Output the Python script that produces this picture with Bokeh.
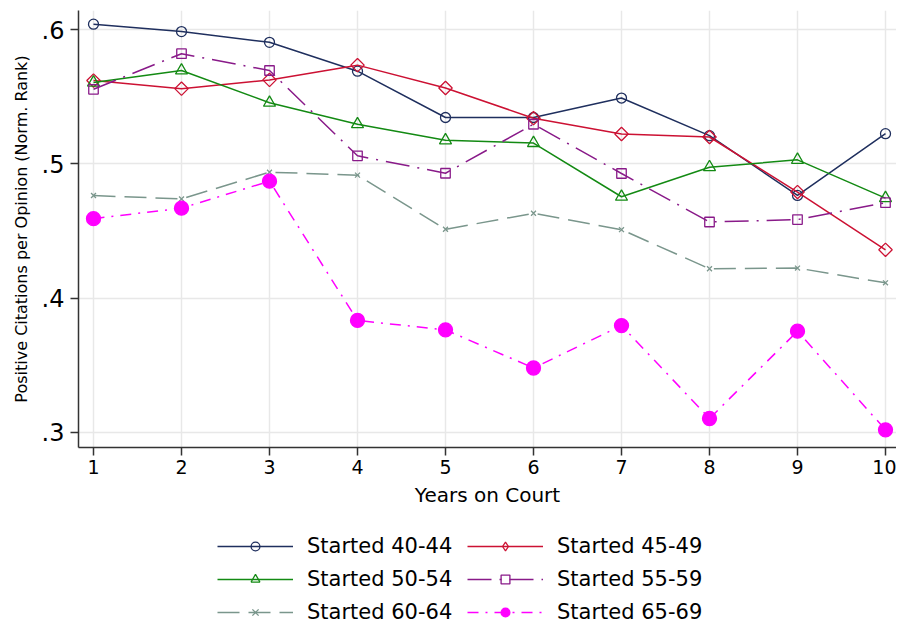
import math
from bokeh.plotting import figure
from bokeh.models import Legend, LegendItem, FixedTicker, Range1d, CustomJSTickFormatter
from bokeh.layouts import column
from bokeh.embed import file_html
from bokeh.resources import INLINE

years = [1, 2, 3, 4, 5, 6, 7, 8, 9, 10]
s40_44 = [0.604, 0.5985, 0.5905, 0.569, 0.5345, 0.5345, 0.549, 0.521, 0.4765, 0.5225]
s45_49 = [0.562, 0.556, 0.5625, 0.5735, 0.5565, 0.534, 0.5222, 0.520, 0.479, 0.436]
s50_54 = [0.5605, 0.5695, 0.5455, 0.5295, 0.5175, 0.5155, 0.4755, 0.4975, 0.503, 0.4745]
s55_59 = [0.5555, 0.582, 0.5695, 0.506, 0.493, 0.5295, 0.4928, 0.4567, 0.4585, 0.4711]
s60_64 = [0.4764, 0.4739, 0.4938, 0.4916, 0.4513, 0.4632, 0.451, 0.4219, 0.4224, 0.4114]
s65_69 = [0.4592, 0.467, 0.4871, 0.3834, 0.3764, 0.348, 0.3796, 0.3104, 0.3754, 0.302]

labels = ["Started 40-44", "Started 45-49", "Started 50-54",
          "Started 55-59", "Started 60-64", "Started 65-69"]
y_ticks = [0.3, 0.4, 0.5, 0.6]

FONT = "DejaVu Sans"

p = figure(frame_width=818, frame_height=437, output_backend="svg",
           toolbar_location=None, min_border_left=78, min_border_top=10,
           min_border_right=0, min_border_bottom=73,
           x_range=Range1d(0.8295, 10.125), y_range=Range1d(0.28881, 0.61418))
p.outline_line_color = None
p.background_fill_color = "white"

styles = [
    dict(color="#1f2f5e", dash="solid", marker="circle", lmarker="circle", size=10, angle=0, fill=None),
    dict(color="#cc1133", dash="solid", marker="square", lmarker="diamond", size=9.5, angle=math.pi / 4, fill=None),
    dict(color="#138a13", dash="solid", marker="triangle", lmarker="triangle", size=12, angle=0, fill=None),
    dict(color="#891a89", dash="24 8 2 8", marker="square", lmarker="square", size=9.5, angle=0, fill=None),
    dict(color="#7a968c", dash="22 9", marker="x", lmarker="x", size=7, angle=0, fill=None),
    dict(color="#ff00ff", dash="11 7 2 7", marker="circle", lmarker="circle", size=14, angle=0, fill="#ff00ff"),
]
series = [s40_44, s45_49, s50_54, s55_59, s60_64, s65_69]

# legend-only figure below the plot (its ranges keep the data out of view)
lg = figure(width=896, height=105, output_backend="svg", toolbar_location=None,
            x_range=Range1d(-20, -19), y_range=Range1d(-20, -19),
            x_axis_location=None, y_axis_location=None,
            min_border=0)
lg.outline_line_color = None
lg.grid.visible = False

items = {}
for lab, vals, st in zip(labels, series, styles):
    line_kw = dict(line_color=st["color"], line_width=1.5, line_dash=st["dash"])
    mk_kw = dict(size=st["size"], line_color=st["color"], line_width=1.3,
                 fill_color=st["fill"] if st["fill"] else "white",
                 fill_alpha=1.0 if st["fill"] else 0.0)
    p.line(years, vals, **line_kw)
    p.scatter(years, vals, marker=st["marker"], angle=st["angle"], **mk_kw)
    l1 = lg.line(years, vals, **line_kw)
    l2 = lg.scatter(years, vals, marker=st["lmarker"], **mk_kw)
    items[lab] = LegendItem(label=lab, renderers=[l1, l2])

order = ["Started 40-44", "Started 50-54", "Started 60-64",
         "Started 45-49", "Started 55-59", "Started 65-69"]
legend = Legend(items=[items[k] for k in order], nrows=3, orientation="vertical",
                location=(139, 1), glyph_width=76, glyph_height=22,
                label_height=25, label_width=152, spacing=8, label_standoff=14,
                label_text_font=FONT, label_text_font_size="21px",
                label_text_color="black",
                border_line_color=None, background_fill_alpha=0,
                padding=0, margin=0)
lg.add_layout(legend, "center")

# axes
p.xaxis.ticker = FixedTicker(ticks=years)
p.yaxis.ticker = FixedTicker(ticks=y_ticks)
p.yaxis.formatter = CustomJSTickFormatter(code="return tick.toFixed(1).replace(/^0/, '');")
p.xaxis.axis_label = "Years on Court"
p.yaxis.axis_label = "Positive Citations per Opinion (Norm. Rank)"
for ax in (p.xaxis, p.yaxis):
    ax.axis_line_color = "#333333"
    ax.axis_line_width = 1.5
    ax.major_tick_line_color = "#333333"
    ax.major_tick_line_width = 1.5
    ax.major_tick_out = 8
    ax.major_tick_in = 0
    ax.minor_tick_line_color = None
    ax.major_label_text_font = FONT
    ax.major_label_text_color = "black"
    ax.axis_label_text_font = FONT
    ax.axis_label_text_font_style = "normal"
    ax.axis_label_text_color = "black"
p.xaxis.major_label_text_font_size = "19px"
p.yaxis.major_label_text_font_size = "24px"
p.xaxis.axis_label_text_font_size = "20px"
p.yaxis.axis_label_text_font_size = "16px"
p.xaxis.major_label_standoff = 4
p.yaxis.major_label_standoff = 6
p.xaxis.axis_label_standoff = 6
p.yaxis.axis_label_standoff = 8

p.xgrid.ticker = FixedTicker(ticks=years)
p.ygrid.ticker = FixedTicker(ticks=y_ticks)
p.grid.grid_line_color = "#e8e8e8"
p.grid.grid_line_width = 1.5

layout = column(p, lg, spacing=0)
open("out.html", "w").write(file_html(layout, INLINE))
